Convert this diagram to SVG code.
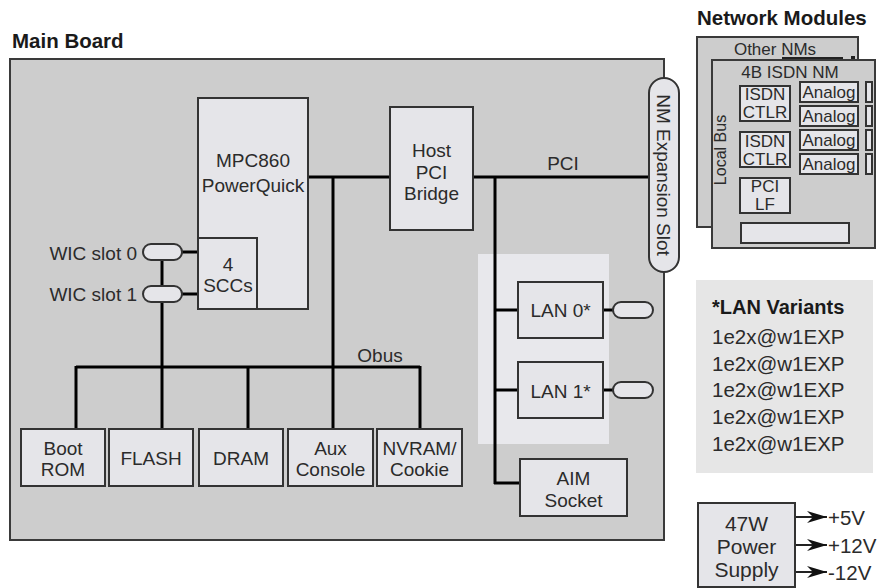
<svg xmlns="http://www.w3.org/2000/svg" width="881" height="588" viewBox="0 0 881 588">
<style>
.bg{fill:#ffffff}
.board{fill:#cdcdcd;stroke:#3a3a3a;stroke-width:2}
.box{fill:#e5e5e9;stroke:#333;stroke-width:2}
.panel{fill:#e8e8ec;stroke:none}
.bus{stroke:#000;stroke-width:3;fill:none}
.thin{stroke:#222;stroke-width:2;fill:none}
text{font-family:"Liberation Sans",Arial,Helvetica,sans-serif;fill:#2b2b2b}
.t{font-size:19px;text-anchor:middle}
.s{font-size:17px;text-anchor:middle}
.title{font-size:20.5px;font-weight:bold;fill:#1a1a1a}
.lv{font-size:20.5px}
</style>
<defs>
<marker id="arr" viewBox="0 0 20 12" markerWidth="20" markerHeight="12" refX="20" refY="6" orient="auto" markerUnits="userSpaceOnUse">
<path d="M0,0 L20,6 L0,12 L6,6 Z" fill="#111"/>
</marker>
</defs>
<rect class="bg" x="0" y="0" width="881" height="588"/>

<g id="main-board">
<text class="title" x="12" y="48">Main Board</text>
<rect class="board" x="10" y="59" width="654" height="481"/>
</g>
<g id="lan-panel"><rect class="panel" x="478" y="254" width="131" height="190"/></g>

<g id="connectors">
<line class="bus" x1="308" y1="177" x2="390" y2="177"/>
<line class="bus" x1="333" y1="177" x2="333" y2="429"/>
<line class="bus" x1="76" y1="367" x2="420" y2="367"/>
<line class="bus" x1="76" y1="366" x2="76" y2="429"/>
<line class="bus" x1="162" y1="252" x2="162" y2="429"/>
<line class="bus" x1="248" y1="366" x2="248" y2="429"/>
<line class="bus" x1="420" y1="366" x2="420" y2="429"/>
<line class="bus" x1="182" y1="252" x2="198" y2="252"/>
<line class="bus" x1="182" y1="294" x2="198" y2="294"/>
<line class="bus" x1="473" y1="177" x2="649" y2="177"/>
<line class="bus" x1="495" y1="177" x2="495" y2="484"/>
<line class="bus" x1="495" y1="310" x2="518" y2="310"/>
<line class="bus" x1="495" y1="390" x2="518" y2="390"/>
<line class="bus" x1="494" y1="483" x2="520" y2="483"/>
<line class="bus" x1="603" y1="310" x2="613" y2="310"/>
<line class="bus" x1="603" y1="390" x2="613" y2="390"/>
<line class="thin" x1="790" y1="92" x2="800" y2="92"/>
<line class="thin" x1="790" y1="116" x2="800" y2="116"/>
<line class="thin" x1="790" y1="140" x2="800" y2="140"/>
<line class="thin" x1="790" y1="164" x2="800" y2="164"/>
<line class="thin" x1="858" y1="92" x2="866" y2="92"/>
<line class="thin" x1="858" y1="116" x2="866" y2="116"/>
<line class="thin" x1="858" y1="140" x2="866" y2="140"/>
<line class="thin" x1="858" y1="164" x2="866" y2="164"/>
<polyline class="thin" points="740,103 732,103 732,198 740,198"/>
<line class="thin" x1="732" y1="149" x2="740" y2="149"/>
<line class="thin" x1="767" y1="213" x2="767" y2="223"/>
<line class="thin" x1="795" y1="517" x2="827" y2="517" marker-end="url(#arr)"/>
<line class="thin" x1="795" y1="545" x2="827" y2="545" marker-end="url(#arr)"/>
<line class="thin" x1="795" y1="572" x2="827" y2="572" marker-end="url(#arr)"/>
</g>

<g id="mpc860">
<rect class="box" x="198" y="98" width="110" height="211"/>
<text class="t" x="253" y="167">MPC860</text>
<text class="t" x="253" y="192">PowerQuick</text>
</g>
<g id="sccs">
<rect class="box" x="198" y="238" width="59" height="71"/>
<text class="t" x="228" y="271">4</text>
<text class="t" x="228" y="292">SCCs</text>
</g>
<g id="wic0">
<rect class="box" x="143" y="244" width="39" height="16" rx="8"/>
<text class="t" x="137" y="260" style="text-anchor:end">WIC slot 0</text>
</g>
<g id="wic1">
<rect class="box" x="143" y="286" width="39" height="16" rx="8"/>
<text class="t" x="137" y="301" style="text-anchor:end">WIC slot 1</text>
</g>
<g id="host-pci-bridge">
<rect class="box" x="390" y="107" width="83" height="123"/>
<text class="t" x="431.5" y="157">Host</text>
<text class="t" x="431.5" y="179">PCI</text>
<text class="t" x="431.5" y="200">Bridge</text>
</g>
<g id="pci-label"><text class="t" x="563" y="170">PCI</text></g>
<g id="obus-label"><text class="t" x="380" y="362">Obus</text></g>
<g id="nm-slot">
<rect class="box" x="649" y="78" width="30" height="194" rx="15"/>
<text class="t" transform="translate(663 175) rotate(90)" x="0" y="6.5">NM Expansion Slot</text>
</g>
<g id="lan0">
<rect class="box" x="518" y="282" width="85" height="56"/>
<text class="t" x="560.5" y="317">LAN 0*</text>
<rect class="box" x="613" y="302" width="40" height="16" rx="8"/>
</g>
<g id="lan1">
<rect class="box" x="518" y="362" width="85" height="56"/>
<text class="t" x="560.5" y="398">LAN 1*</text>
<rect class="box" x="613" y="382" width="40" height="16" rx="8"/>
</g>
<g id="aim">
<rect class="box" x="520" y="459" width="107" height="57"/>
<text class="t" x="573.5" y="485">AIM</text>
<text class="t" x="573.5" y="507">Socket</text>
</g>
<g id="bootrom">
<rect class="box" x="21" y="429" width="84" height="57"/>
<text class="t" x="63" y="455">Boot</text>
<text class="t" x="63" y="476">ROM</text>
</g>
<g id="flash">
<rect class="box" x="109" y="429" width="84" height="57"/>
<text class="t" x="151" y="465">FLASH</text>
</g>
<g id="dram">
<rect class="box" x="199" y="429" width="84" height="57"/>
<text class="t" x="241" y="465">DRAM</text>
</g>
<g id="aux">
<rect class="box" x="288" y="429" width="85" height="57"/>
<text class="t" x="330.5" y="455">Aux</text>
<text class="t" x="330.5" y="476">Console</text>
</g>
<g id="nvram">
<rect class="box" x="377" y="429" width="85" height="57"/>
<text class="t" x="419.5" y="455">NVRAM/</text>
<text class="t" x="419.5" y="476">Cookie</text>
</g>

<g id="network-modules">
<text class="title" x="697" y="25">Network Modules</text>
</g>
<g id="other-nms">
<rect class="board" x="697" y="37" width="161" height="190"/>
<text class="s" x="775" y="55">Other NMs</text>
<rect x="782" y="57" width="61" height="3" fill="#222"/>
<rect x="851" y="56" width="4" height="4" fill="#222"/>
</g>
<g id="isdn-nm">
<rect class="board" x="712" y="60" width="163" height="188"/>
<text class="s" x="790" y="78">4B ISDN NM</text>
<text class="s" transform="translate(720 150) rotate(-90)" x="0" y="6" style="font-size:16px">Local Bus</text>
</g>
<g id="ctlr1">
<rect class="box" x="740" y="86" width="50" height="35"/>
<text class="s" x="765" y="100">ISDN</text>
<text class="s" x="765" y="118">CTLR</text>
</g>
<g id="ctlr2">
<rect class="box" x="740" y="132" width="50" height="35"/>
<text class="s" x="765" y="147">ISDN</text>
<text class="s" x="765" y="165">CTLR</text>
</g>
<g id="analog1"><rect class="box" x="800" y="82" width="58" height="20"/><text class="s" x="829" y="98">Analog</text><rect class="box" x="866" y="82" width="6" height="20"/></g>
<g id="analog2"><rect class="box" x="800" y="106" width="58" height="20"/><text class="s" x="829" y="122">Analog</text><rect class="box" x="866" y="106" width="6" height="20"/></g>
<g id="analog3"><rect class="box" x="800" y="130" width="58" height="20"/><text class="s" x="829" y="146">Analog</text><rect class="box" x="866" y="130" width="6" height="20"/></g>
<g id="analog4"><rect class="box" x="800" y="154" width="58" height="20"/><text class="s" x="829" y="170">Analog</text><rect class="box" x="866" y="154" width="6" height="20"/></g>
<g id="pcilf">
<rect class="box" x="740" y="178" width="50" height="35"/>
<text class="s" x="765" y="192">PCI</text>
<text class="s" x="765" y="210">LF</text>
</g>
<g id="nm-connector"><rect class="box" x="741" y="223" width="108" height="20"/></g>

<g id="lan-variants">
<rect x="696" y="280" width="177" height="193" fill="#e6e6e6"/>
<text class="title" x="712" y="314" style="font-size:20px">*LAN Variants</text>
<text class="lv" x="712" y="344">1e2x@w1EXP</text>
<text class="lv" x="712" y="371">1e2x@w1EXP</text>
<text class="lv" x="712" y="397">1e2x@w1EXP</text>
<text class="lv" x="712" y="424">1e2x@w1EXP</text>
<text class="lv" x="712" y="451">1e2x@w1EXP</text>
</g>

<g id="power-supply">
<rect class="box" x="698" y="503" width="97" height="84"/>
<text class="t" x="746.5" y="531" style="font-size:21px">47W</text>
<text class="t" x="746.5" y="554" style="font-size:21px">Power</text>
<text class="t" x="746.5" y="577" style="font-size:21px">Supply</text>
<text class="lv" x="828" y="525">+5V</text>
<text class="lv" x="828" y="553">+12V</text>
<text class="lv" x="828" y="580">-12V</text>
</g>
</svg>
